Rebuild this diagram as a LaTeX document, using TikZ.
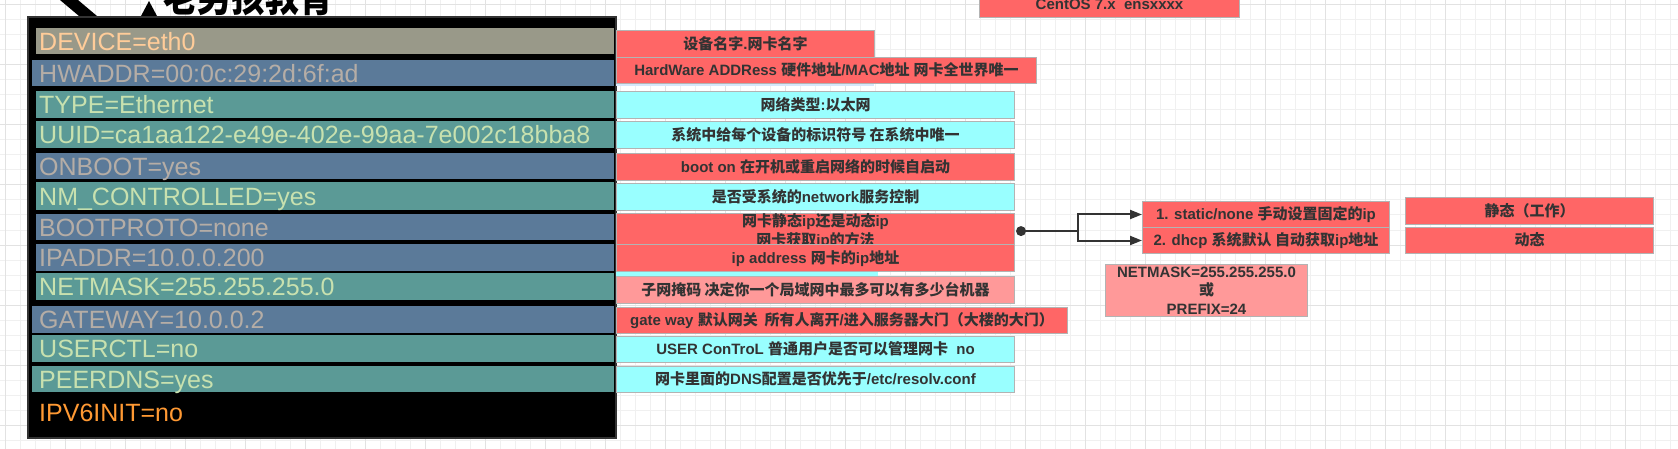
\documentclass[tikz,border=0pt]{standalone}
\usepackage{fontspec}
\setmainfont{Liberation Sans}
\newfontfamily\cjk{Noto Sans CJK SC}
\usetikzlibrary{arrows.meta}
\newcommand\zhs[1]{{\cjk #1}}
\definecolor{redF}{HTML}{FF6666}
\definecolor{cyanF}{HTML}{99FFFF}
\definecolor{pinkF}{HTML}{FF9999}
\definecolor{boxB}{HTML}{B3B3B3}
\definecolor{txtD}{HTML}{333333}
\definecolor{rowGrey}{HTML}{999989}
\definecolor{rowBlue}{HTML}{5B7A99}
\definecolor{rowTeal}{HTML}{5B9A96}
\definecolor{txtPeach}{HTML}{FFCC99}
\definecolor{txtGrey}{HTML}{B5ADA6}
\definecolor{txtGreen}{HTML}{C8E1AF}
\definecolor{txtOrange}{HTML}{FF9933}
\definecolor{gridMinor}{HTML}{F0F0F0}
\definecolor{gridMajor}{HTML}{E2E2E2}
\definecolor{frameC}{HTML}{333333}
\definecolor{ghostBlue}{HTML}{D6E7FA}
\begin{document}
\begin{tikzpicture}[x=1pt,y=-1pt,
  rowA/.style={anchor=north west, inner xsep=3pt, inner ysep=0pt, text width=572pt, align=left,
    font=\fontsize{25}{25}\selectfont, text height=17.9pt, text depth=0pt},
  rowB/.style={rowA, inner xsep=7pt, text width=568pt},
  rboxbase/.style={draw=boxB, line width=1pt, anchor=north west, inner sep=0pt,
    font=\fontsize{15}{19}\selectfont\bfseries, text=txtD, align=center},
  rbox/.style={rboxbase, text height=10.7pt, text depth=0pt},
  conn/.style={draw=txtD, line width=2pt},
  arr/.style={conn, -{Triangle[length=12pt,width=9pt]}}
]
\useasboundingbox (0,0) rectangle (1678,449);
\clip (0,0) rectangle (1678,449);
% grid
\foreach \gx in {5,20,...,1678} {\draw[gridMinor, line width=1pt] (\gx,0) -- (\gx,449);}
\foreach \gy in {5,20,...,449} {\draw[gridMinor, line width=1pt] (0,\gy) -- (1678,\gy);}
\foreach \gx in {5,65,...,1678} {\draw[gridMajor, line width=1pt] (\gx,0) -- (\gx,449);}
\foreach \gy in {5,65,...,449} {\draw[gridMajor, line width=1pt] (0,\gy) -- (1678,\gy);}

% logo fragment (cut by the top edge)
\fill[black] (60,0) -- (78,0) -- (97,16) -- (79,16) -- cycle;
\fill[black] (149,1) -- (141,16) -- (157,16) -- cycle;
\node[anchor=base west, inner sep=0pt, font=\cjk\bfseries\fontsize{34}{34}\selectfont] (logo) at (163,11.5) {\scalebox{1}[1.3]{老男孩教育}};

% black frame
\node[draw=frameC, line width=2pt, fill=black, anchor=north west, inner sep=0pt,
  minimum width=588pt, minimum height=421pt] (frame) at (27,16) {};

% rows
\node[rowA, fill=rowGrey, text=txtPeach, minimum height=26pt] (r1) at (36,28) {DEVICE=eth0};
\node[rowB, fill=rowBlue, text=txtGrey, minimum height=26pt] (r2) at (32,60) {HWADDR=00:0c:29:2d:6f:ad};
\node[rowA, fill=rowTeal, text=txtGreen, minimum height=27pt] (r3) at (36,91) {TYPE=Ethernet};
\node[rowA, fill=rowTeal, text=txtGreen, minimum height=27pt] (r4) at (36,121) {UUID=ca1aa122-e49e-402e-99aa-7e002c18bba8};
\node[rowA, fill=rowBlue, text=txtGrey, minimum height=26pt] (r5) at (36,153) {ONBOOT=yes};
\node[rowA, fill=rowTeal, text=txtGreen, minimum height=28pt] (r6) at (36,182) {NM\_CONTROLLED=yes};
\node[rowA, fill=rowBlue, text=txtGrey, minimum height=26pt] (r7) at (36,214) {BOOTPROTO=none};
\node[rowA, fill=rowBlue, text=txtGrey, minimum height=27pt] (r8) at (36,244) {IPADDR=10.0.0.200};
\node[rowA, fill=rowTeal, text=txtGreen, minimum height=27pt] (r9) at (36,273) {NETMASK=255.255.255.0};
\node[rowB, fill=rowBlue, text=txtGrey, minimum height=27pt] (r10) at (32,306) {GATEWAY=10.0.0.2};
\node[rowB, fill=rowTeal, text=txtGreen, minimum height=27pt] (r11) at (32,335) {USERCTL=no};
\node[rowB, fill=rowTeal, text=txtGreen, minimum height=26pt] (r12) at (32,366) {PEERDNS=yes};
\node[anchor=west, inner sep=0pt, font=\fontsize{25}{25}\selectfont, text=txtOrange,
  text height=17.9pt, text depth=0pt] (r13) at (39,413) {IPV6INIT=no};

% ghost strips of boxes lying behind
\fill[ghostBlue] (616,83) rectangle (874,86);
\fill[cyanF] (616,272) rectangle (878,276);

% description boxes
\node[rbox, fill=redF, minimum width=258pt, minimum height=27pt] (d1) at (616,30) {\zhs{设备名字}.\zhs{网卡名字}};
\node[rbox, fill=redF, minimum width=420pt, minimum height=26pt] (d2) at (616,57) {HardWare ADDRess \zhs{硬件地址}/MAC\zhs{地址} \zhs{网卡全世界唯一}};
\node[rbox, fill=cyanF, minimum width=398pt, minimum height=27pt] (d3) at (616,91) {\zhs{网络类型}:\zhs{以太网}};
\node[rbox, fill=cyanF, minimum width=398pt, minimum height=27pt] (d4) at (616,121) {\zhs{系统中给每个设备的标识符号 在系统中唯一}};
\node[rbox, fill=redF, minimum width=398pt, minimum height=27pt] (d5) at (616,153) {boot on \zhs{在开机或重启网络的时候自启动}};
\node[rbox, fill=cyanF, minimum width=398pt, minimum height=27pt] (d6) at (616,183) {\zhs{是否受系统的}network\zhs{服务控制}};
\node[rboxbase, fill=redF, minimum width=398pt, minimum height=27pt] (d7) at (616,213) {\zhs{网卡静态}ip\zhs{还是动态}ip\\\zhs{网卡获取}ip\zhs{的方法}};
\node[rbox, fill=redF, minimum width=398pt, minimum height=27pt] (d8) at (616,244) {ip address \zhs{网卡的}ip\zhs{地址}};
\node[rbox, fill=pinkF, minimum width=398pt, minimum height=27pt] (d9) at (616,276) {\zhs{子网掩码 决定你一个局域网中最多可以有多少台机器}};
\node[rbox, fill=redF, minimum width=451pt, minimum height=26pt] (d10) at (616,307) {gate way \zhs{默认网关\ \ 所有人离开}/\zhs{进入服务器大门（大楼的大门）}};
\node[rbox, fill=cyanF, minimum width=398pt, minimum height=26pt] (d11) at (616,336) {USER ConTroL \zhs{普通用户是否可以管理网卡}\ \ no};
\node[rbox, fill=cyanF, minimum width=398pt, minimum height=26pt] (d12) at (616,366) {\zhs{网卡里面的}DNS\zhs{配置是否优先于}/etc/resolv.conf};

\node[rbox, fill=redF, minimum width=260pt, minimum height=27pt] (centos) at (979,-10) {CentOS 7.x\ \ ensxxxx};

\node[rbox, fill=redF, minimum width=247pt, minimum height=26pt] (s1) at (1142,201) {1. static/none \zhs{手动设置固定的}ip};
\node[rbox, fill=redF, minimum width=247pt, minimum height=26pt] (s2) at (1142,227) {2. dhcp \zhs{系统默认 自动获取}ip\zhs{地址}};
\node[rboxbase, fill=pinkF, minimum width=202pt, minimum height=52pt, font=\fontsize{15}{18.5}\selectfont\bfseries] (nm) at (1105,264) {NETMASK=255.255.255.0\\\zhs{或}\\PREFIX=24};
\node[rbox, fill=redF, minimum width=248pt, minimum height=27pt] (j1) at (1405,197) {\zhs{静态（工作）}};
\node[rbox, fill=redF, minimum width=248pt, minimum height=26pt] (j2) at (1405,227) {\zhs{动态}};

% connector
\coordinate (dot) at ([xshift=6pt]d7.east);
\fill[txtD] (dot) circle (5pt);
\draw[conn] (dot) -- ++(57,0) coordinate (br);
\draw[arr] (br) |- (s1.west);
\draw[arr] (br) |- (s2.west);
\end{tikzpicture}
\end{document}
